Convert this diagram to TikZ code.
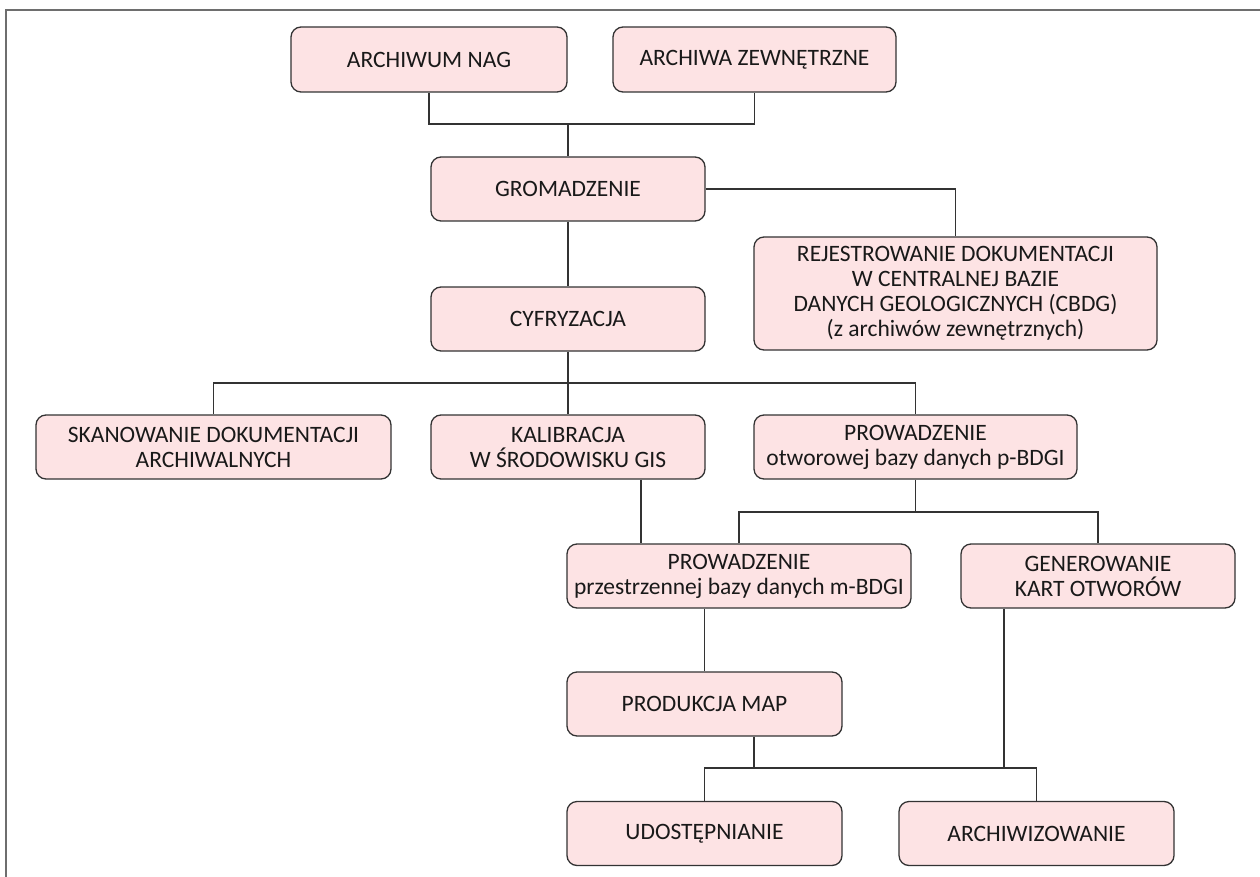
\documentclass[tikz,border=0pt]{standalone}
\usepackage{fontspec}
\setmainfont{Carlito}
\usetikzlibrary{calc,positioning}

\definecolor{boxfill}{HTML}{FDE3E4}
\definecolor{boxline}{HTML}{333333}
\definecolor{framegray}{HTML}{6E6E6E}

\begin{document}
\begin{tikzpicture}[x=1pt,y=-1pt,
  box/.style={draw=boxline,fill=boxfill,line width=1.3pt,rounded corners=10pt,
    align=center,inner sep=0pt,minimum height=64pt,text=black!90,
    font=\fontsize{23.5}{25}\selectfont},
  link/.style={draw=boxline,line width=1.6pt}]

\useasboundingbox (0,0) rectangle (1260,877);
\draw[framegray,line width=1.8pt] (6,877) -- (6,10) -- (1260,10);

\node[box,minimum width=276pt,minimum height=65pt] (nag) at (429,59.5) {ARCHIWUM NAG};
\node[box,minimum width=283pt,minimum height=65pt] (zew) at (754.5,59.5) {ARCHIWA ZEWNĘTRZNE};
\node[box,minimum width=274pt] (grom) at (568,189) {GROMADZENIE};
\node[box,minimum width=403pt,minimum height=113pt] (rej) at (955.5,293.5)
  {REJESTROWANIE DOKUMENTACJI\\W CENTRALNEJ BAZIE\\DANYCH GEOLOGICZNYCH (CBDG)\\(z archiwów zewnętrznych)};
\node[box,minimum width=274pt] (cyf) at (568,319) {CYFRYZACJA};
\node[box,minimum width=355pt] (skan) at (213.5,447) {SKANOWANIE DOKUMENTACJI\\ARCHIWALNYCH};
\node[box,minimum width=274pt] (kal) at (568,447) {KALIBRACJA\\W ŚRODOWISKU GIS};
\node[box,minimum width=323pt] (pbd) at (915.5,447) {PROWADZENIE\\otworowej bazy danych p-BDGI};
\node[box,minimum width=344pt] (mbd) at (739,576) {PROWADZENIE\\przestrzennej bazy danych m-BDGI};
\node[box,minimum width=274pt] (gen) at (1098,576) {GENEROWANIE\\KART OTWORÓW};
\node[box,minimum width=275pt] (prod) at (704.5,704) {PRODUKCJA MAP};
\node[box,minimum width=275pt] (udo) at (704.5,833.5) {UDOSTĘPNIANIE};
\node[box,minimum width=275pt] (arch) at (1036.5,833.5) {ARCHIWIZOWANIE};

% junctions
\coordinate (j1) at (568,124);
\coordinate (j2) at (568,383);
\coordinate (j3) at (915.5,512);
\coordinate (k1) at (641,0);
\coordinate (j4) at (754,768);
\coordinate (g1) at (1004,768);

\draw[link] (nag.south) |- (j1) -| (zew.south);
\draw[link] (j1) -- (grom.north);
\draw[link] (grom.east) -| (rej.north);
\draw[link] (grom.south) -- (cyf.north);
\draw[link] (skan.north) |- (j2) -| (pbd.north);
\draw[link] (cyf.south) -- (kal.north);
\draw[link] (kal.south -| k1) -- (mbd.north -| k1);
\draw[link] (mbd.north) |- (j3) -| (gen.north);
\draw[link] (pbd.south) -- (j3);
\draw[link] (mbd.south -| prod.north) -- (prod.north);
\draw[link] (udo.north) |- (j4) -| (arch.north);
\draw[link] (prod.south -| j4) -- (j4);
\draw[link] (gen.south -| g1) -- (g1);
\end{tikzpicture}
\end{document}
